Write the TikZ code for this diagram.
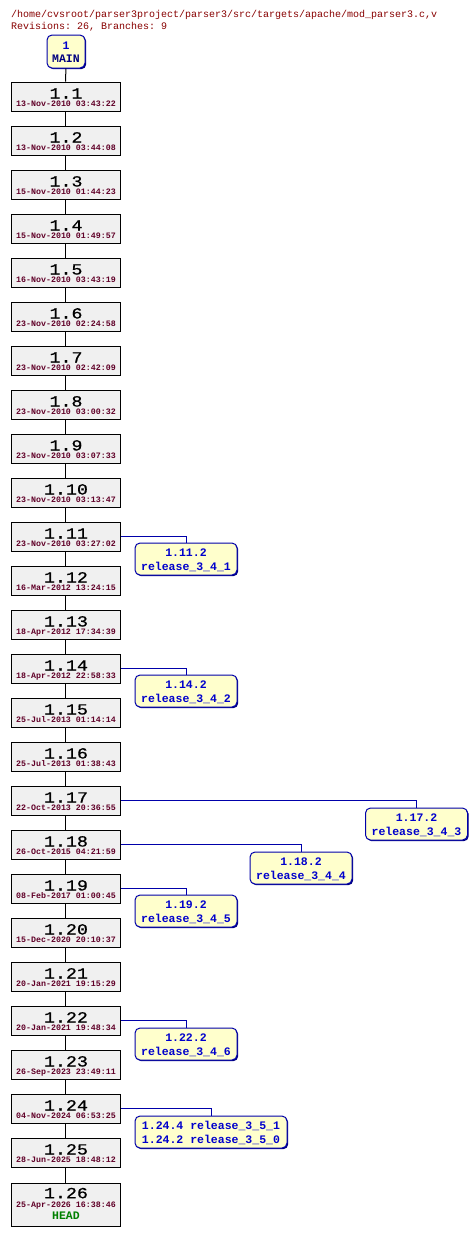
\documentclass[tikz,border=0pt]{standalone}
\usepackage{fontspec}
\setmonofont{Liberation Mono}
\usetikzlibrary{shadows}
\definecolor{titlered}{RGB}{136,0,0}
\definecolor{datecol}{RGB}{96,0,40}
\definecolor{revfill}{RGB}{240,240,240}
\definecolor{brfill}{RGB}{255,255,204}
\definecolor{brline}{RGB}{0,0,170}
\definecolor{brtext}{RGB}{0,0,204}
\definecolor{navy}{RGB}{0,0,128}
\definecolor{headgreen}{RGB}{0,128,0}
\tikzset{
  revbox/.style={draw=black, line width=1pt, fill=revfill, minimum width=109pt, minimum height=29pt, inner sep=0pt,
    drop shadow={shadow xshift=1.2pt, shadow yshift=-1.2pt, fill=black, opacity=1}},
  brbox/.style={draw=brline, line width=1pt, fill=brfill, rounded corners=5pt, minimum height=32pt, inner sep=0pt,
    drop shadow={shadow xshift=1.2pt, shadow yshift=-1.2pt, fill=navy, opacity=1}},
  txt/.style={anchor=base, inner sep=0pt, font=\ttfamily},
  numtxt/.style={txt, font=\ttfamily\fontsize{15.5}{15.5}\selectfont, text=black},
  datetxt/.style={txt, font=\ttfamily\bfseries\fontsize{8.3}{8.3}\selectfont, text=datecol},
  brtxt/.style={txt, font=\ttfamily\bfseries\fontsize{11.5}{11.5}\selectfont, text=brtext},
  trunk/.style={draw=black, line width=1pt},
  branch/.style={draw=brline, line width=1pt},
}
\newcommand{\revnum}[1]{\scalebox{1.18}[1]{\addfontfeature{FakeBold=0.7}#1}}
\newcommand{\brnode}[6]{% name, cx, top, width, line1, line2
  \node[brbox, minimum width=#4pt] (#1) at (#2,#3+16) {};
  \node[brtxt] (#1a) at (#2,#3+13.5) {#5};
  \node[brtxt] (#1b) at (#2,#3+27) {#6};
}
\begin{document}
\begin{tikzpicture}[x=1pt,y=-1pt]
\useasboundingbox[fill=white] (0,0) rectangle (476,1235);
\node[txt, anchor=base west, font=\ttfamily\fontsize{10}{10}\selectfont, text=titlered] (title) at (11,17) {/home/cvsroot/parser3project/parser3/src/targets/apache/mod\_parser3.c,v};
\node[txt, anchor=base west, font=\ttfamily\fontsize{10}{10}\selectfont, text=titlered] (revs) at (11,29) {Revisions: 26, Branches: 9};
% MAIN
\node[brbox, minimum width=38pt, minimum height=33pt] (main) at (66,51.5) {};
\node[brtxt] (mainnum) at (66,49.3) {1};
\node[brtxt, text=navy] (mainlbl) at (66,62.5) {MAIN};
% revisions 1..25
\foreach \i/\dt in {1/13-Nov-2010 03:43:22, 2/13-Nov-2010 03:44:08, 3/15-Nov-2010 01:44:23, 4/15-Nov-2010 01:49:57,
  5/16-Nov-2010 03:43:19, 6/23-Nov-2010 02:24:58, 7/23-Nov-2010 02:42:09, 8/23-Nov-2010 03:00:32,
  9/23-Nov-2010 03:07:33, 10/23-Nov-2010 03:13:47, 11/23-Nov-2010 03:27:02, 12/16-Mar-2012 13:24:15,
  13/18-Apr-2012 17:34:39, 14/18-Apr-2012 22:58:33, 15/25-Jul-2013 01:14:14, 16/25-Jul-2013 01:38:43,
  17/22-Oct-2013 20:36:55, 18/26-Oct-2015 04:21:59, 19/08-Feb-2017 01:00:45, 20/15-Dec-2020 20:10:37,
  21/20-Jan-2021 19:15:29, 22/20-Jan-2021 19:48:34, 23/26-Sep-2023 23:49:11, 24/04-Nov-2024 06:53:25,
  25/28-Jun-2025 18:48:12}{
  \pgfmathsetmacro\tp{82+(\i-1)*44}
  \node[revbox] (r\i) at (65.5,\tp+14.5) {};
  \node[numtxt] (n\i) at (66,\tp+16.5) {\revnum{1.\i}};
  \node[datetxt] (d\i) at (66,\tp+24.8) {\dt};
}
% revision 1.26
\node[revbox, minimum height=43pt] (r26) at (65.5,1204.5) {};
\node[numtxt] (n26) at (66,1198.2) {\revnum{1.26}};
\node[datetxt] (d26) at (66,1207.3) {25-Apr-2026 16:38:46};
\node[brtxt, text=headgreen] (head26) at (66,1219.5) {HEAD};
% trunk
\draw[trunk] (main) -- (r1);
\foreach \a [evaluate=\a as \b using int(\a+1)] in {1,...,25}{
  \draw[trunk] (r\a) -- (r\b);
}
% branches
\brnode{b11}{186}{543}{102}{1.11.2}{release\_3\_4\_1}
\brnode{b14}{186}{675}{102}{1.14.2}{release\_3\_4\_2}
\brnode{b17}{416.5}{808}{102}{1.17.2}{release\_3\_4\_3}
\brnode{b18}{301}{852}{102}{1.18.2}{release\_3\_4\_4}
\brnode{b19}{186}{895}{102}{1.19.2}{release\_3\_4\_5}
\brnode{b22}{186}{1028}{102}{1.22.2}{release\_3\_4\_6}
\brnode{b24}{211}{1116}{152}{1.24.4 release\_3\_5\_1}{1.24.2 release\_3\_5\_0}
\draw[branch] (r11.east) -| (b11.north);
\draw[branch] (r14.east) -| (b14.north);
\draw[branch] (r17.east) -| (b17.north);
\draw[branch] (r18.east) -| (b18.north);
\draw[branch] (r19.east) -| (b19.north);
\draw[branch] (r22.east) -| (b22.north);
\draw[branch] (r24.east) -| (b24.north);
\end{tikzpicture}
\end{document}
